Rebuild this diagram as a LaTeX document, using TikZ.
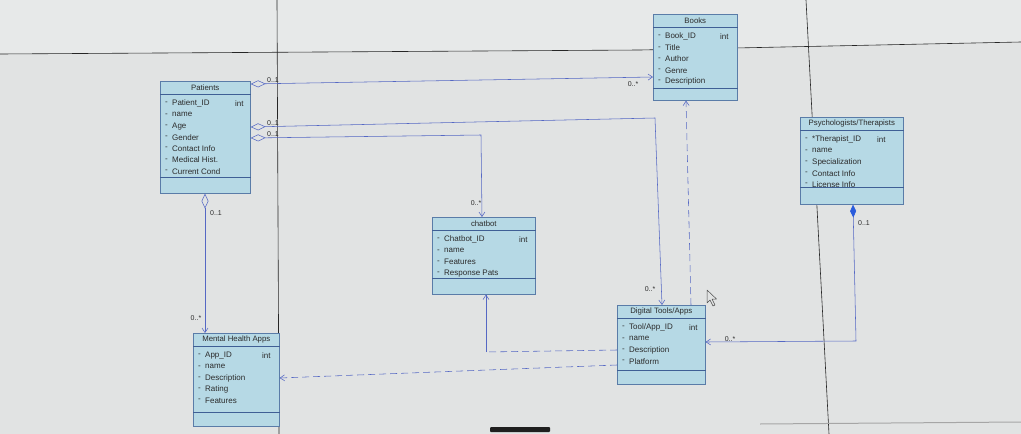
\documentclass[tikz,border=0pt]{standalone}
\usepackage{fontspec}
\setmainfont{Liberation Sans}
\usetikzlibrary{arrows.meta}
\definecolor{bg}{HTML}{E1E3E3}
\definecolor{bgtop}{HTML}{E7E9E9}
\definecolor{clsfill}{HTML}{B6D9E5}
\definecolor{clsborder}{HTML}{5A7CA8}
\definecolor{clssep}{HTML}{3F5F95}
\definecolor{txt}{HTML}{2B2B2B}
\definecolor{conn}{HTML}{5568C4}
\definecolor{connfill}{HTML}{2A5CDC}
\definecolor{scr}{HTML}{1F1F1F}
\tikzset{
  cls/.style={draw=clsborder, fill=clsfill, line width=0.6pt, rectangle, inner sep=0pt, anchor=north west},
  sepline/.style={draw=clssep, line width=0.6pt},
  ttl/.style={font=\fontsize{7.8}{9}\selectfont, text=txt, inner sep=0pt},
  attr/.style={font=\fontsize{8}{9}\selectfont, text=txt, inner sep=0pt, anchor=west},
  mult/.style={font=\fontsize{7}{8}\selectfont, text=txt, inner sep=0.5pt},
  assoc/.style={draw=conn, line width=0.55pt},
  dep/.style={draw=conn, line width=0.55pt, dash pattern=on 7pt off 4pt},
  openhead/.style={-{Straight Barb[length=4.5pt,width=6pt]}},
  aggarrow/.style={{Diamond[open,length=15pt,width=7pt]}-{Straight Barb[length=4.5pt,width=6pt]}},
  comparrow/.style={{Diamond[length=13pt,width=6pt,fill=connfill,color=connfill]}-{Straight Barb[length=4.5pt,width=6pt]}},
  screenline/.style={draw=black!85, line width=0.6pt}
}
\newcommand{\umlclass}[9]{%
  \node[cls, minimum width=#4pt, minimum height=#5pt] (#1) at (#2,#3) {};
  \draw[sepline] ([yshift=-13pt]#1.north west) -- ([yshift=-13pt]#1.north east);
  \draw[sepline] ([yshift=#8pt]#1.south west) -- ([yshift=#8pt]#1.south east);
  \node[ttl] (#1-title) at ([yshift=-6.8pt]#1.north) {#6};
  \foreach \rowtext [count=\i] in {#7} {
    \node[attr] (#1-m\i) at ([xshift=5pt,yshift={-11.3pt*\i-11.2pt}]#1.north west) {-};
    \node[attr] (#1-a\i) at ([xshift=12pt,yshift={-11.3pt*\i-11.2pt}]#1.north west) {\rowtext};
  }
  \node[attr] (#1-int) at ([xshift=#9pt,yshift=-22.5pt]#1.north west) {int};
}
\begin{document}
\begin{tikzpicture}[x=1pt,y=-1pt]
\useasboundingbox (0,0) rectangle (1021,434);
\fill[bg] (0,0) rectangle (1021,434);
\fill[bgtop] (0,0) -- (1021,0) -- (1021,42) -- (640,50) -- (0,54) -- cycle;
% screen lines
\draw[screenline] (0,54) -- (640,50) -- (1021,42);
\draw[screenline] (277,0) -- (279,434);
\draw[screenline] (806,0) -- (829,434);
\draw[draw=black!35, line width=1pt] (760,424) -- (1021,422);
\fill[scr, rounded corners=1pt] (490,427) rectangle (550,432);

% classes
\umlclass{patients}{160}{81}{90}{112}{Patients}{Patient\_ID,name,Age,Gender,Contact Info,Medical Hist.,Current Cond}{16}{75}
\umlclass{books}{653}{14}{84}{86}{Books}{Book\_ID,Title,Author,Genre,Description}{12}{67}
\umlclass{psych}{800}{117}{103}{87}{Psychologists/Therapists}{*Therapist\_ID,name,Specialization,Contact Info,License Info}{17}{77}
\umlclass{chatbot}{432}{217}{103}{77}{chatbot}{Chatbot\_ID,name,Features,Response Pats}{16}{87}
\umlclass{tools}{617}{305}{88}{79}{Digital Tools/Apps}{Tool/App\_ID,name,Description,Platform}{14}{72}
\umlclass{mha}{193}{333}{86}{93}{Mental Health Apps}{App\_ID,name,Description,Rating,Features}{14}{69}

% bend coordinates
\coordinate (k2) at (655,118);
\coordinate (k3) at (481,135);
\coordinate (k5) at (856,341);
\coordinate (k6) at (486,352);

% associations
\draw[assoc, aggarrow] ([yshift=-3pt]patients.north east) -- ([yshift=-63pt]books.north west);
\draw[assoc, aggarrow] ([yshift=-46pt]patients.north east) -- (k2) -- ([xshift=45pt]tools.north west);
\draw[assoc, aggarrow] ([yshift=-57pt]patients.north east) -- (k3) -- ([xshift=50pt]chatbot.north west);
\draw[assoc, aggarrow] ([xshift=45pt]patients.south west) -- ([xshift=12pt]mha.north west);
\draw[assoc, comparrow] ([xshift=53pt]psych.south west) -- (k5) -- ([yshift=-37pt]tools.north east);

% dependencies
\draw[dep] ([yshift=-45pt]tools.north west) -- (k6);
\draw[assoc, openhead] (k6) -- ([xshift=54pt]chatbot.south west);
\draw[dep, openhead] ([yshift=-60pt]tools.north west) -- ([yshift=-45pt]mha.north east);
\draw[dep, openhead] ([xshift=74pt]tools.north west) -- ([xshift=33pt]books.south west);

% multiplicities
\node[mult] (m1a) at (273,80) {0..1};
\node[mult] (m1b) at (633,84) {0..*};
\node[mult] (m2a) at (273,123) {0..1};
\node[mult] (m2b) at (650,289) {0..*};
\node[mult] (m3a) at (273,134) {0..1};
\node[mult] (m3b) at (476,203) {0..*};
\node[mult] (m4a) at (216,213) {0..1};
\node[mult] (m4b) at (196,318) {0..*};
\node[mult] (m5a) at (864,223) {0..1};
\node[mult] (m5b) at (730,339) {0..*};

% mouse cursor
\draw[draw=black!70, fill=bg, line width=0.5pt, line join=round]
  (707,290) -- (707,303) -- (710,300) -- (713,306) -- (715,305) -- (712,299) -- (716.5,299) -- cycle;
\end{tikzpicture}
\end{document}
